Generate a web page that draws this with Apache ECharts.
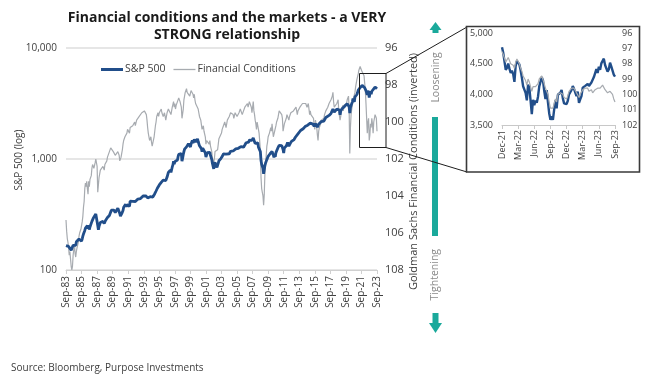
<!DOCTYPE html>
<html>
<head>
<meta charset="utf-8">
<script src="https://cdn.jsdelivr.net/npm/echarts@6/dist/echarts.min.js"></script>
<style>html,body{margin:0;padding:0;background:#fff}#c{width:653px;height:380px}</style>
</head>
<body>
<div id="c"></div>
<script>
// ---------- DATA ----------
// Monthly, Sep-1983 .. Sep-2023
const spx = [
166,164,166,165,
163,157,159,160,151,153,151,167,166,166,164,167,
180,181,181,180,190,192,191,188,182,190,202,211,
212,227,238,235,247,251,236,253,231,244,249,242,
274,284,292,288,290,304,319,330,322,252,230,247,
257,268,259,261,262,274,272,262,272,279,274,278,
297,289,295,310,321,318,346,351,349,340,346,353,
329,332,340,331,361,358,356,323,306,304,322,330,
344,367,375,375,390,371,388,395,388,392,375,417,
409,413,404,415,415,408,424,414,418,419,431,436,
439,443,452,440,450,451,448,464,459,468,462,466,
482,467,446,451,457,444,458,475,463,472,454,459,
470,487,501,515,533,545,562,562,584,582,605,616,
636,640,646,654,669,671,640,652,687,705,757,741,
786,791,757,801,848,885,954,899,947,915,955,970,
980,1049,1102,1111,1091,1134,1121,957,1017,1099,1164,1229,
1280,1238,1286,1335,1302,1373,1329,1320,1283,1363,1389,1469,
1394,1366,1499,1452,1421,1455,1431,1518,1437,1429,1315,1320,
1366,1240,1160,1249,1256,1224,1211,1134,1041,1060,1139,1148,
1130,1107,1147,1077,1067,990,912,916,815,886,936,880,
856,841,848,917,964,975,990,1008,996,1051,1058,1112,
1131,1145,1126,1107,1121,1141,1102,1104,1115,1130,1174,1212,
1181,1204,1181,1157,1192,1191,1234,1220,1229,1207,1249,1248,
1280,1281,1295,1311,1270,1270,1277,1304,1336,1378,1401,1418,
1438,1407,1421,1482,1531,1503,1455,1474,1527,1549,1481,1468,
1379,1331,1323,1386,1400,1280,1267,1283,1166,969,896,903,
826,735,798,873,919,919,987,1021,1057,1036,1096,1115,
1074,1104,1169,1187,1089,1031,1102,1049,1141,1183,1181,1258,
1286,1327,1326,1364,1345,1321,1292,1219,1131,1253,1247,1258,
1312,1366,1408,1398,1310,1362,1379,1407,1441,1412,1416,1426,
1498,1515,1569,1598,1631,1606,1686,1633,1682,1757,1806,1848,
1783,1859,1872,1884,1924,1960,1931,2003,1972,2018,2068,2059,
1995,2105,2068,2086,2107,2063,2104,1972,1920,2079,2080,2044,
1940,1932,2060,2065,2097,2099,2174,2171,2168,2126,2199,2239,
2279,2364,2363,2384,2412,2423,2470,2472,2519,2575,2648,2674,
2824,2714,2641,2648,2705,2718,2816,2902,2914,2712,2760,2507,
2704,2784,2834,2946,2752,2942,2980,2926,2977,3038,3141,3231,
3226,2954,2585,2912,3044,3100,3271,3500,3363,3270,3622,3756,
3714,3811,3973,4181,4204,4298,4395,4523,4308,4605,4567,4766,
4516,4374,4530,4132,4132,3785,4130,3955,3586,3872,4080,3840,
4077,3970,4109,4169,4180,4450,4589,4508,4288
];
const fci = [
105.3,105.9,106.3,106.5,
106.8,107.2,107.0,107.4,107.8,108.0,107.8,107.2,106.9,106.6,107.1,107.3,
107.0,106.8,106.9,106.5,106.2,106.0,106.1,105.8,105.9,105.4,105.1,104.6,
104.3,103.6,103.3,103.5,103.2,103.6,103.9,103.2,103.5,103.1,103.0,102.9,
102.5,102.3,102.2,102.5,102.4,102.2,102.0,102.0,102.4,103.8,103.4,103.0,
102.8,102.6,102.7,102.5,102.6,102.4,102.5,102.6,102.3,102.2,102.3,102.1,
101.9,102.0,101.8,101.6,101.5,101.4,101.3,101.5,101.4,101.6,101.5,101.6,
101.8,101.9,101.8,101.9,101.6,101.7,101.8,102.1,102.1,101.9,101.7,101.5,
101.2,101.0,100.9,100.8,100.7,100.9,100.6,100.4,100.5,100.4,100.6,100.3,
100.2,100.3,100.4,100.2,100.1,100.3,100.0,100.2,100.1,99.9,99.9,99.8,
99.9,99.7,99.6,99.8,99.6,99.5,99.6,99.4,99.5,99.4,99.5,99.5,
99.6,99.9,100.3,100.6,100.7,101.0,100.9,100.8,101.1,101.3,101.4,101.2,
100.8,100.5,100.2,100.0,99.7,99.6,99.5,99.7,99.5,99.6,99.4,99.3,
99.5,99.4,99.7,99.6,99.5,99.4,99.9,99.7,99.5,99.4,99.3,99.4,
99.4,99.3,99.6,99.4,99.2,99.1,98.9,99.2,99.0,99.3,99.1,99.0,
98.9,98.8,98.7,98.8,98.9,99.0,99.2,99.8,99.7,99.3,98.8,98.6,
98.4,98.3,98.2,98.4,98.5,98.3,98.4,98.6,98.5,98.3,98.4,98.3,
98.5,98.7,98.5,98.8,99.0,98.9,99.0,99.1,99.3,99.5,99.7,99.8,
99.9,100.0,100.4,100.3,100.2,100.5,100.6,100.8,101.2,101.0,100.9,101.1,
101.0,101.2,101.0,101.3,101.4,101.6,102.0,101.9,102.2,102.0,101.6,101.5,
101.6,101.7,101.5,101.2,100.9,100.8,101.0,100.8,100.6,100.4,100.3,100.2,
100.1,100.0,100.1,100.3,100.2,99.9,99.9,99.8,99.7,99.6,99.5,99.4,
99.5,99.4,99.6,99.8,99.7,99.5,99.4,99.6,99.7,99.8,99.6,99.5,
99.4,99.3,99.4,99.3,99.6,99.5,99.4,99.3,99.2,99.1,99.2,99.1,
99.0,99.2,99.1,98.9,98.8,98.9,99.2,99.5,99.2,98.9,99.4,99.6,
99.9,100.1,100.4,100.0,100.0,100.4,100.6,100.7,101.5,103.0,103.6,103.8,
104.0,104.5,103.9,102.8,102.2,101.8,101.3,101.1,100.8,100.9,100.6,100.5,
100.3,100.5,100.1,100.0,100.8,100.9,100.5,100.6,100.2,100.0,100.1,99.8,
99.6,99.4,99.5,99.3,99.4,99.6,99.8,100.5,100.6,100.1,100.2,100.0,
99.8,99.6,99.5,99.6,99.9,99.7,99.6,99.5,99.4,99.5,99.5,99.4,
99.3,99.4,99.3,99.2,99.3,99.6,99.4,99.5,99.3,99.2,99.1,99.1,
99.2,99.0,99.1,99.0,98.9,98.9,99.0,98.9,99.2,99.1,99.0,99.3,
99.6,99.4,99.6,99.5,99.6,99.7,99.8,100.2,100.4,99.9,100.0,100.3,
100.7,101.0,100.5,100.3,100.2,100.1,99.9,99.8,99.9,100.0,99.8,99.6,
99.5,99.4,99.3,99.3,99.2,99.1,99.0,98.9,98.9,98.8,98.7,98.6,
98.4,98.9,99.2,99.2,99.1,99.2,99.0,98.9,98.8,99.4,99.5,99.9,
99.7,99.4,99.3,99.1,99.4,99.1,99.0,99.2,99.1,99.0,98.8,98.7,
98.6,99.3,101.7,100.3,99.6,99.3,99.1,98.8,98.9,98.8,98.4,98.1,
97.9,97.7,97.6,97.4,97.2,97.1,97.0,97.0,97.2,97.1,97.3,97.2,
97.5,97.9,98.3,99.0,99.8,100.6,100.0,99.8,101.0,100.7,100.1,100.3,
99.8,100.1,100.6,100.0,99.9,99.6,99.5,99.8,100.5
];
// Weekly, 31-Dec-2021 .. 29-Sep-2023 (inset)
const spxInset = [
4766,4677,4663,4398,4432,4501,4419,4349,4385,4329,4204,4463,4543,4546,
4488,4393,4272,4132,4123,4024,3901,4158,4109,3901,3675,3912,3825,
3899,3863,3962,4130,4145,4280,4228,4058,3924,4067,3873,3693,3586,
3640,3583,3752,3901,3771,3993,3965,4026,4072,3934,3852,3845,3840,
3895,3999,3973,4071,4136,4090,4079,3970,4046,3862,3917,3971,4109,
4105,4138,4133,4169,4136,4124,4192,4205,4282,4299,4410,4348,4450,
4399,4505,4536,4582,4478,4464,4370,4406,4516,4457,4450,4320,4288
];
const fciInset = [
97.2,97.4,97.5,97.9,97.8,97.6,97.8,98.0,97.9,98.1,98.3,97.9,97.7,97.8,
98.0,98.3,98.5,98.8,98.9,99.1,99.4,99.0,99.2,99.5,99.8,99.5,99.6,
99.5,99.6,99.3,99.0,98.9,98.8,98.9,99.3,99.6,99.5,100.0,100.5,100.9,
100.8,100.9,100.6,100.3,100.5,100.0,100.1,99.9,99.8,100.0,100.2,100.3,100.3,
100.1,99.8,99.9,99.6,99.5,99.6,99.7,99.9,99.8,100.2,100.0,99.9,99.7,
99.7,99.6,99.7,99.6,99.8,99.8,99.7,99.9,99.8,99.7,99.6,99.6,99.5,
99.6,99.5,99.4,99.5,99.7,99.7,99.9,99.8,99.8,99.9,100.0,100.3,100.5
];
const insetTickLabels = ['Dec-21','Mar-22','Jun-22','Sep-22','Dec-22','Mar-23','Jun-23','Sep-23'];
const seriesNames = ['S&P 500', 'Financial Conditions'];

// categories
const MON = ['Jan','Feb','Mar','Apr','May','Jun','Jul','Aug','Sep','Oct','Nov','Dec'];
const months = [];
for (let i = 0; i < spx.length; i++) {
  const m = (8 + i) % 12, y = 1983 + Math.floor((8 + i) / 12);
  months.push(MON[m] + '-' + String(y).slice(2));
}
const weeks = [];
for (let i = 0; i < spxInset.length; i++) {
  const d = new Date(Date.UTC(2021, 11, 31 + 7 * i));
  weeks.push(d.toISOString().slice(0, 10));
}

const FONT = '"Open Sans", sans-serif';
const TXT = '#404040';
const BLUE = '#214e8a';
const GREY = '#a7abb0';
const TEAL = '#1aa99b';

const chart = echarts.init(document.getElementById('c'), null, {renderer: 'canvas'});
chart.setOption({
  animation: false,
  textStyle: {fontFamily: FONT},
  legend: {
    left: 96, top: 59, itemWidth: 22, itemHeight: 10, itemGap: 8,
    data: [
      {name: seriesNames[0], icon: 'path://M0,0H22V3H0Z'},
      {name: seriesNames[1], icon: 'path://M0,0H22V1.3H0Z'}
    ],
    textStyle: {fontSize: 10.5, color: TXT, fontFamily: FONT, padding: [0, 0, 0, -3]}
  },
  grid: [
    {left: 66, top: 48, width: 311, height: 222},
    {left: 502, top: 33, width: 113, height: 92}
  ],
  xAxis: [
    {type: 'category', gridIndex: 0, data: months, boundaryGap: false,
     axisLine: {lineStyle: {color: '#d0d0d0', width: 1}},
     axisTick: {interval: 23, length: 4, lineStyle: {color: '#d0d0d0'}},
     axisLabel: {interval: 23, rotate: 90, fontSize: 10, color: TXT, margin: 6, fontFamily: FONT},
     splitLine: {show: false}},
    {type: 'category', gridIndex: 1, data: weeks, boundaryGap: false,
     axisLine: {lineStyle: {color: '#c8c8c8', width: 1}},
     axisTick: {interval: 12, length: 4, lineStyle: {color: '#c8c8c8'}},
     axisLabel: {interval: 12, rotate: 90, fontSize: 9, color: TXT, margin: 5, fontFamily: FONT,
       formatter: (v, i) => insetTickLabels[Math.round(i / 13)]},
     splitLine: {show: false}}
  ],
  yAxis: [
    {type: 'log', gridIndex: 0, logBase: 10, min: 100, max: 10000,
     axisLine: {show: false}, axisTick: {show: false},
     axisLabel: {fontSize: 10, color: TXT, margin: 9, fontFamily: FONT,
       formatter: v => Number(v).toLocaleString('en-US')},
     splitLine: {lineStyle: {color: '#dedede', width: 1.5}}},
    {type: 'value', gridIndex: 0, position: 'right', inverse: true, min: 96, max: 108, interval: 2,
     axisLine: {show: false}, axisTick: {show: false}, splitLine: {show: false},
     axisLabel: {fontSize: 11, color: TXT, margin: 8, fontFamily: FONT}},
    {type: 'value', gridIndex: 1, min: 3500, max: 5000, interval: 500,
     axisLine: {show: false}, axisTick: {show: false}, splitLine: {show: false},
     axisLabel: {fontSize: 9, color: TXT, margin: 9, fontFamily: FONT,
       formatter: v => Number(v).toLocaleString('en-US')}},
    {type: 'value', gridIndex: 1, position: 'right', inverse: true, min: 96, max: 102, interval: 1,
     axisLine: {show: false}, axisTick: {show: false}, splitLine: {show: false},
     axisLabel: {fontSize: 9, color: TXT, margin: 7, fontFamily: FONT}}
  ],
  series: [
    {name: seriesNames[0], type: 'line', xAxisIndex: 0, yAxisIndex: 0, data: spx,
     symbol: 'none', z: 3, lineStyle: {color: BLUE, width: 2.8}, itemStyle: {color: BLUE}},
    {name: seriesNames[1], type: 'line', xAxisIndex: 0, yAxisIndex: 1, data: fci,
     symbol: 'none', z: 2, lineStyle: {color: GREY, width: 1.2}, itemStyle: {color: GREY}},
    {name: seriesNames[0], type: 'line', xAxisIndex: 1, yAxisIndex: 2, data: spxInset,
     symbol: 'none', z: 3, lineStyle: {color: BLUE, width: 2.4}, itemStyle: {color: BLUE}},
    {name: seriesNames[1], type: 'line', xAxisIndex: 1, yAxisIndex: 3, data: fciInset,
     symbol: 'none', z: 4, lineStyle: {color: GREY, width: 1.2}, itemStyle: {color: GREY}}
  ],
  graphic: [
    {type: 'text', x: 227, y: 18, style: {text: 'Financial conditions and the markets - a VERY',
      font: 'bold 14px ' + FONT, fill: '#1a1a1a', textAlign: 'center', align: 'center', textVerticalAlign: 'middle', verticalAlign: 'middle'}},
    {type: 'text', x: 227, y: 35, style: {text: 'STRONG relationship',
      font: 'bold 14px ' + FONT, fill: '#1a1a1a', textAlign: 'center', align: 'center', textVerticalAlign: 'middle', verticalAlign: 'middle'}},
    {type: 'text', x: 19, y: 160, rotation: Math.PI / 2, style: {text: 'S&P 500 (log)',
      font: '10px ' + FONT, fill: TXT, textAlign: 'center', align: 'center', textVerticalAlign: 'middle', verticalAlign: 'middle'}},
    {type: 'text', x: 413.5, y: 171.5, rotation: Math.PI / 2, style: {text: 'Goldman Sachs Financial Conditions (inverted)',
      font: '11px ' + FONT, fill: TXT, textAlign: 'center', align: 'center', textVerticalAlign: 'middle', verticalAlign: 'middle'}},
    {type: 'text', x: 436, y: 77.5, rotation: Math.PI / 2, style: {text: 'Loosening',
      font: '10.5px ' + FONT, fill: '#8a8a8a', textAlign: 'center', align: 'center', textVerticalAlign: 'middle', verticalAlign: 'middle'}},
    {type: 'text', x: 435.5, y: 274.7, rotation: Math.PI / 2, style: {text: 'Tightening',
      font: '10.5px ' + FONT, fill: '#8a8a8a', textAlign: 'center', align: 'center', textVerticalAlign: 'middle', verticalAlign: 'middle'}},
    {type: 'text', x: 11, y: 368, style: {text: 'Source: Bloomberg, Purpose Investments',
      font: '10px ' + FONT, fill: TXT, textAlign: 'left', align: 'left', textVerticalAlign: 'middle', verticalAlign: 'middle'}},
    // arrows
    {type: 'polygon', shape: {points: [[429.5, 30], [441.5, 30], [435.5, 22]]}, style: {fill: TEAL}},
    {type: 'rect', shape: {x: 432.5, y: 29, width: 6, height: 4}, style: {fill: TEAL}},
    {type: 'rect', shape: {x: 432, y: 117, width: 6, height: 119}, style: {fill: TEAL}},
    {type: 'rect', shape: {x: 432.5, y: 313, width: 6, height: 11}, style: {fill: TEAL}},
    {type: 'polygon', shape: {points: [[429, 323], [442, 323], [435.5, 333]]}, style: {fill: TEAL}},
    // zoom box + connectors
    {type: 'rect', shape: {x: 359.5, y: 73.5, width: 26.5, height: 74}, style: {fill: 'none', stroke: '#1e1e1e', lineWidth: 1}, z: 10},
    {type: 'line', shape: {x1: 386, y1: 73.5, x2: 467, y2: 27}, style: {stroke: '#1e1e1e', lineWidth: 1}, z: 10},
    {type: 'line', shape: {x1: 386, y1: 147.5, x2: 467, y2: 172}, style: {stroke: '#1e1e1e', lineWidth: 1}, z: 10},
    {type: 'rect', shape: {x: 466.5, y: 26.5, width: 173, height: 145.5}, style: {fill: 'none', stroke: '#3a3a3a', lineWidth: 1.6}, z: 10}
  ]
});
</script>
</body>
</html>
